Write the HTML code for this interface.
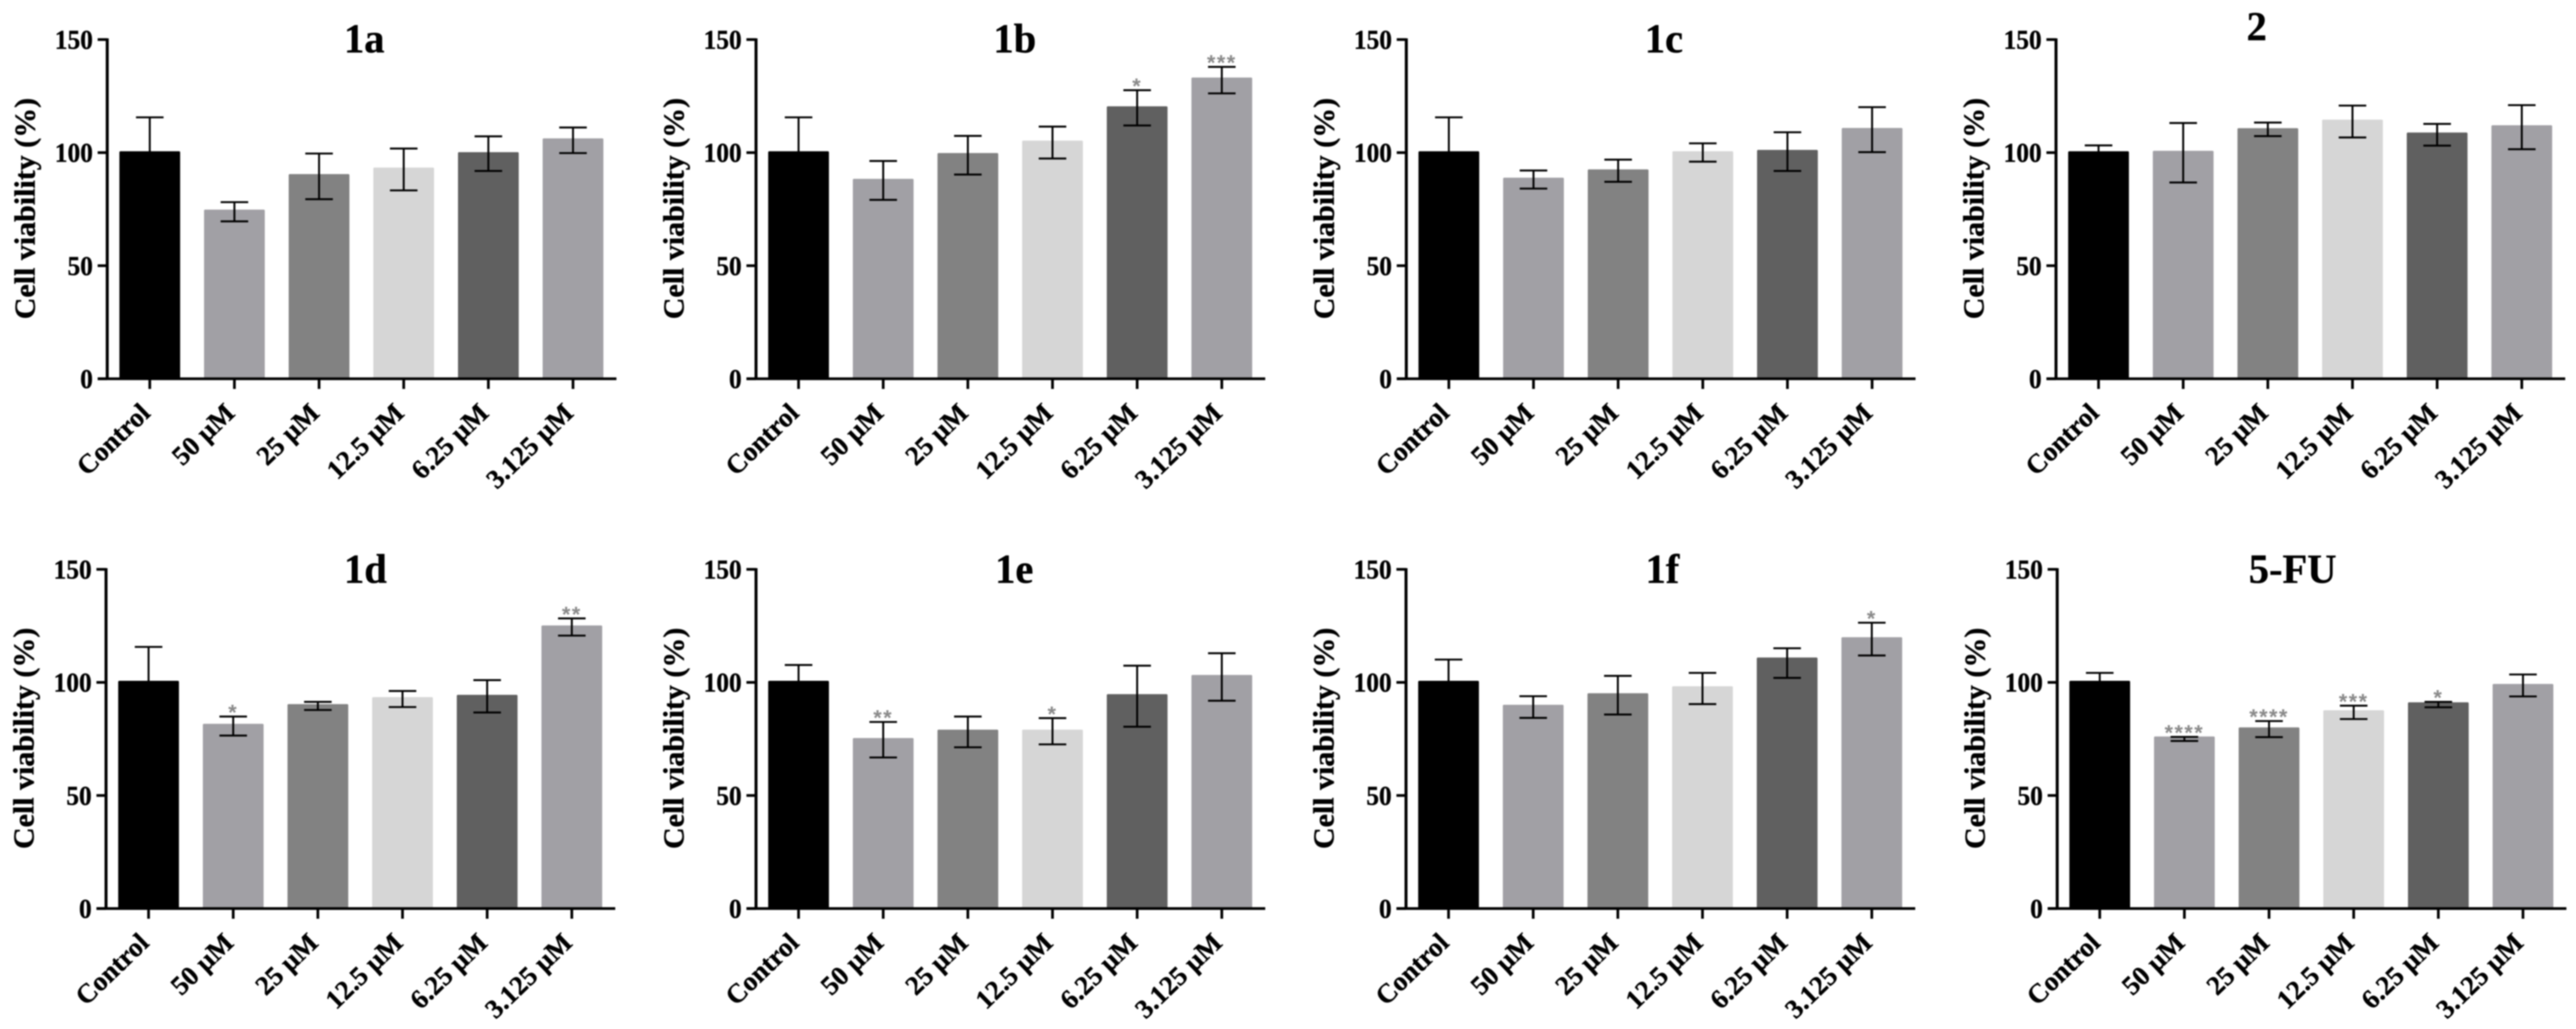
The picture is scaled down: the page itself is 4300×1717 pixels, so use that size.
<!DOCTYPE html>
<html lang="en">
<head>
<meta charset="utf-8">
<title>Cell viability bar charts</title>
<style>
html,body{margin:0;padding:0;background:#fff;width:4300px;height:1717px;overflow:hidden}
#figure{display:block;filter:blur(1.1px)}
text{font-family:"Liberation Serif",serif;font-weight:bold;fill:#000;stroke:#000;stroke-width:0.6px}
.star{font-family:"Liberation Sans",sans-serif;fill:#8a8a8a;stroke:none;letter-spacing:2.5px}
</style>
</head>
<body>
<svg id="figure" xmlns="http://www.w3.org/2000/svg" width="4300" height="1717" viewBox="0 0 4300 1717"></svg>
<script>
const categories = ["Control", "50 µM", "25 µM", "12.5 µM", "6.25 µM", "3.125 µM"];
const yTickValues = [0, 50, 100, 150];
const yAxisLabel = "Cell viability (%)";
const barColors = ["#000000", "#a1a0a5", "#828282", "#d6d6d6", "#606060", "#a1a0a5"];

const means1a = [100.6, 74.8, 90.5, 93.4, 100.2, 106.3];
const upper1a = [115.6, 78.1, 99.6, 101.8, 107.2, 111.1];
const lower1a = [85.6, 69.6, 79.4, 83.3, 91.9, 99.8];
const stars1a = ["", "", "", "", "", ""];

const means1b = [100.6, 88.4, 99.8, 105.3, 120.5, 133.2];
const upper1b = [115.6, 96.3, 107.4, 111.5, 127.6, 137.9];
const lower1b = [85.6, 79.1, 90.3, 97.4, 112.0, 126.2];
const stars1b = ["", "", "", "", "*", "***"];

const means1c = [100.6, 88.9, 92.6, 100.6, 101.2, 110.9];
const upper1c = [115.6, 92.1, 96.9, 104.1, 109.0, 120.1];
const lower1c = [85.6, 84.1, 87.1, 96.0, 91.9, 100.2];
const stars1c = ["", "", "", "", "", ""];

const means2 = [100.6, 100.8, 110.8, 114.6, 108.9, 112.1];
const upper2 = [103.2, 113.1, 113.3, 120.8, 112.7, 121.0];
const lower2 = [98.0, 86.8, 107.3, 106.7, 103.1, 101.5];
const stars2 = ["", "", "", "", "", ""];

const means1d = [100.7, 81.7, 90.4, 93.5, 94.5, 125.2];
const upper1d = [115.7, 84.9, 91.4, 96.2, 101.0, 128.3];
const lower1d = [85.7, 76.5, 87.8, 89.1, 86.7, 120.7];
const stars1d = ["", "*", "", "", "", "**"];

const means1e = [100.7, 75.4, 79.1, 79.1, 94.8, 103.3];
const upper1e = [107.7, 82.5, 84.9, 84.2, 107.4, 112.9];
const lower1e = [93.7, 66.8, 71.3, 72.6, 80.4, 91.9];
const stars1e = ["", "**", "", "*", "", ""];

const means1f = [100.7, 90.1, 95.2, 98.3, 111.0, 120.0];
const upper1f = [110.1, 93.9, 102.9, 104.2, 115.1, 126.4];
const lower1f = [91.3, 84.3, 85.8, 90.4, 102.0, 111.9];
const stars1f = ["", "", "", "", "", "*"];

const means5FU = [100.7, 76.1, 80.1, 87.7, 91.2, 99.3];
const upper5FU = [104.2, 75.9, 82.9, 89.7, 91.4, 103.5];
const lower5FU = [97.2, 74.1, 75.8, 83.8, 89.0, 93.8];
const stars5FU = ["", "****", "****", "***", "*", ""];

const panels = [
  {title: "1a", slug: "1a", means: means1a, upper: upper1a, lower: lower1a, stars: stars1a},
  {title: "1b", slug: "1b", means: means1b, upper: upper1b, lower: lower1b, stars: stars1b},
  {title: "1c", slug: "1c", means: means1c, upper: upper1c, lower: lower1c, stars: stars1c},
  {title: "2", slug: "2", means: means2, upper: upper2, lower: lower2, stars: stars2},
  {title: "1d", slug: "1d", means: means1d, upper: upper1d, lower: lower1d, stars: stars1d},
  {title: "1e", slug: "1e", means: means1e, upper: upper1e, lower: lower1e, stars: stars1e},
  {title: "1f", slug: "1f", means: means1f, upper: upper1f, lower: lower1f, stars: stars1f},
  {title: "5-FU", slug: "5-fu", means: means5FU, upper: upper5FU, lower: lower5FU, stars: stars5FU}
];

/* layout only (no data) */
const SVG_NS = "http://www.w3.org/2000/svg";
const svg = document.getElementById("figure");
const axisOrigins = [179, 1262, 2347.5, 3432, 177, 1262, 2347, 3434];
const titleCenters = [429, 432, 430, 335, 433, 431, 428, 393];
const titleDrops = [21.5, 21.5, 21.5, 1, 22.5, 22.5, 22.5, 22.5];

function mk(parent, tag, attrs, txt) {
  const el = document.createElementNS(SVG_NS, tag);
  for (const k in attrs) el.setAttribute(k, attrs[k]);
  if (txt !== undefined) el.textContent = txt;
  parent.appendChild(el);
  return el;
}

function drawPanel(panel, idx) {
  const axisX = axisOrigins[idx];
  const row = idx < 4 ? 0 : 1;
  const top = row === 0 ? 66 : 950;
  const zero = row === 0 ? 632 : 1516;
  const yScale = v => zero - (v / 150) * (zero - top);
  const xScale = i => axisX + 71 + 141.3 * i;

  const g = mk(svg, "g", {});
  
  

  const title = mk(g, "text", {
    transform: "translate(" + (axisX + titleCenters[idx]) + "," + (top + titleDrops[idx]) + ") scale(0.98,1)",
    "text-anchor": "middle", "font-size": 69
  }, panel.title);
  
  

  const yTitle = mk(g, "text", {
    transform: "translate(" + (axisX - 121) + "," + ((top + zero) / 2 - 1) + ") rotate(-90) scale(1.02,1)",
    "text-anchor": "middle", "font-size": 49
  }, yAxisLabel);
  
  

  panel.means.forEach((m, i) => {
    const y = yScale(m);
    const bar = mk(g, "rect", {
      x: xScale(i) - 50.7, y: y, width: 101.4, height: zero - y, rx: 2, fill: barColors[i]
    });
    
    
  });

  panel.means.forEach((m, i) => {
    const x = xScale(i);
    const yHi = yScale(panel.upper[i]);
    const yLo = yScale(panel.lower[i]);
    const eg = mk(g, "g", {stroke: "#000", "stroke-width": 3.2, fill: "none"});
    
    
    mk(eg, "line", {x1: x, x2: x, y1: yHi, y2: yLo});
    mk(eg, "line", {x1: x - 23, x2: x + 23, y1: yHi, y2: yHi});
    mk(eg, "line", {x1: x - 23, x2: x + 23, y1: yLo, y2: yLo});
    if (panel.stars[i]) {
      const star = mk(g, "text", {
        class: "star", x: x, y: yHi + 5.5, "text-anchor": "middle", "font-size": 36
      }, panel.stars[i]);
      
      
    }
  });

  const yAxis = mk(g, "line", {x1: axisX, x2: axisX, y1: top - 2, y2: zero + 2, stroke: "#000", "stroke-width": 5});
  
  

  const xAxis = mk(g, "line", {x1: axisX - 16, x2: axisX + 850, y1: zero, y2: zero, stroke: "#000", "stroke-width": 4.5});
  
  

  yTickValues.forEach(v => {
    const y = yScale(v);
    const tick = mk(g, "line", {x1: axisX - 16, x2: axisX, y1: y, y2: y, stroke: "#000", "stroke-width": 4.5});
    
    
    const lab = mk(g, "text", {
      transform: "translate(" + (axisX - 24) + "," + (y + 15.5) + ") scale(0.92,1)",
      "text-anchor": "end", "font-size": 46
    }, String(v));
    
    
  });

  categories.forEach((c, i) => {
    const x = xScale(i);
    const tick = mk(g, "line", {x1: x, x2: x, y1: zero, y2: zero + 17, stroke: "#000", "stroke-width": 4.5});
    
    
    const lab = mk(g, "text", {
      transform: "translate(" + (x + 3) + "," + (zero + 60) + ") rotate(-44)",
      "text-anchor": "end", "font-size": 45
    }, c);
    
    
  });
}

panels.forEach(drawPanel);
</script>
</body>
</html>
